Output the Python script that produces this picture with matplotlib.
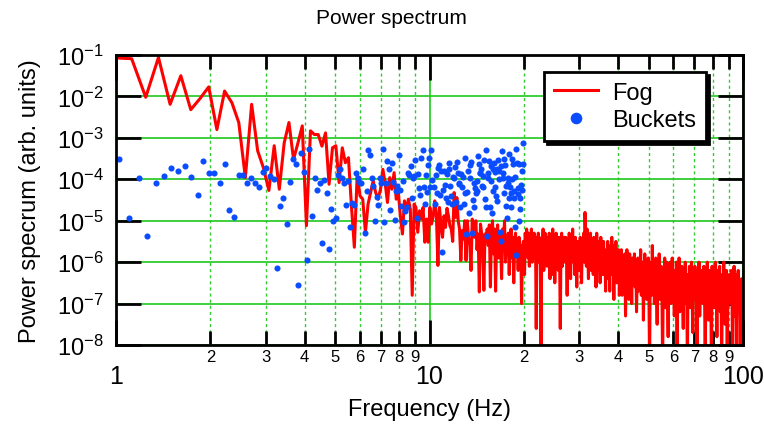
import numpy as np
import matplotlib
matplotlib.use('Agg')
import matplotlib.pyplot as plt
from matplotlib.ticker import FixedLocator, FixedFormatter, NullLocator

plt.rcParams['font.family'] = ['Liberation Sans', 'DejaVu Sans']
plt.rcParams['mathtext.default'] = 'regular'

# ---------------- data (log10 of power) ----------------
fog_df = 0.122          # frequency resolution of the Fog spectrum below 20 Hz (Hz)
fog_log_1_10 = [
    -1.07, -1.09, -2.02, -1.06, -2.19, -1.50, -2.32, -2.05, -1.77, -2.80,
    -1.87, -2.15, -2.63, -3.96, -2.19, -3.31, -3.72, -4.27,
    -3.19, -4.24, -3.12, -2.63, -3.52, -3.12, -2.71, -5.12, -2.83, -2.92,
    -2.92, -3.20, -2.88, -4.12, -3.24, -3.19, -4.08, -3.24, -3.60,
    -3.48, -4.64, -5.64, -3.88, -4.40, -4.48, -5.28, -4.60, -4.32, -4.04,
    -4.32, -4.48, -4.24, -3.76, -4.10, -4.56, -3.96, -4.24, -3.84, -4.48,
    -4.32, -4.90, -5.32, -4.52, -4.76, -4.48, -4.72, -6.80, -4.60, -4.68,
    -5.28, -4.76, -4.96, -4.68, -5.52, -4.96, -5.52,
]
fog_log_10_20 = [
    -4.68, -5.08, -4.90, -4.52, -4.84, -6.08, -4.68, -5.10, -5.40, -4.88,
    -5.16, -4.70, -4.88, -5.12, -5.20, -5.50, -4.32, -4.92, -4.44, -5.00,
    -5.20, -5.96, -5.24, -5.44, -5.00, -5.96, -5.00, -5.40, -5.60, -6.20,
    -4.96, -5.20, -5.40, -5.00, -5.70, -5.32, -6.72, -5.08, -5.30, -5.64,
    -6.68, -5.32, -5.50,
    -5.2, -5.6, -5.1, -6.6, -5.3, -5.0, -5.8, -5.2, -6.7, -5.4,
    -5.1, -5.9, -5.3, -5.6, -6.4, -5.2, -5.5, -5.0, -6.0, -5.4,
    -5.7, -5.3, -6.3, -5.5, -5.2, -5.9, -5.4, -6.5, -5.6, -5.3,
    -5.8, -5.5, -6.2, -5.4, -5.9, -5.6, -7.0, -5.7, -5.5,
]
# Fog above 20 Hz (log-spaced readings from 20 to 100 Hz)
fog_log_20_100 = [
    -5.5, -6.3, -5.3, -5.8, -5.2, -5.6, -5.9, -5.3, -6.1, -5.4, -5.7, -5.2, -6.0, -5.5, -5.8, -5.3, -5.9, -5.6, -7.6, -5.4,
    -5.8, -5.3, -6.0, -5.5, -5.9, -8.5, -5.4, -5.7, -5.2, -6.2, -5.6, -5.3, -5.9, -5.5, -6.1, -5.4, -5.8, -5.3, -6.4, -5.6,
    -5.5, -6.3, -5.2, -5.9, -5.4, -6.5, -5.7, -5.3, -6.0, -5.5, -6.2, -5.4, -5.8, -7.6, -5.6, -5.3, -6.1, -5.5, -5.9, -5.4,
    -6.0, -5.4, -5.8, -6.8, -5.5, -6.1, -5.3, -5.7, -6.4, -5.5, -5.9, -5.2, -6.0, -5.6, -6.3, -5.4, -5.8, -6.6, -5.5, -6.0,
    -5.6, -6.2, -5.4, -5.9, -6.5, -5.5, -5.8, -5.3, -6.0, -4.8, -5.4, -6.1, -5.2, -5.7, -6.4, -5.5, -5.9, -5.3, -6.2, -5.6,
    -5.8, -6.3, -5.4, -6.0, -5.6, -6.6, -5.3, -5.9, -6.2, -5.5, -5.8, -6.5, -5.4, -6.0, -5.7, -6.3, -5.5, -6.1, -5.8, -6.7,
    -5.7, -6.2, -5.5, -6.4, -5.9, -6.7, -5.6, -6.1, -5.4, -6.3, -5.8, -6.9, -5.6, -6.0, -5.5, -6.5, -5.9, -6.2, -5.7, -6.8,
    -6.0, -6.5, -5.7, -6.8, -6.1, -5.9, -6.6, -5.8, -7.3, -6.2, -5.7, -6.4, -6.0, -6.9, -5.8, -6.3, -6.1, -7.0, -5.9, -6.4,
    -6.2, -5.8, -6.6, -6.0, -7.2, -6.3, -5.9, -6.7, -6.1, -6.4, -5.7, -6.8, -6.2, -6.0, -7.4, -6.3, -5.8, -6.6, -6.1, -6.9,
    -6.3, -5.9, -6.7, -8.5, -6.2, -6.0, -6.8, -5.6, -6.5, -6.1, -7.0, -6.3, -5.9, -6.6, -7.5, -6.2, -6.4, -5.8, -6.9, -6.3,
    -6.1, -6.7, -8.5, -6.2, -6.5, -5.9, -7.1, -6.3, -6.0, -6.8, -7.8, -6.2, -6.6, -6.0, -7.0, -6.4, -5.9, -6.7, -6.3, -7.3,
    -6.2, -6.8, -6.0, -8.5, -6.4, -6.6, -5.9, -7.2, -6.3, -6.9, -6.1, -6.7, -7.6, -6.2, -6.5, -6.0, -7.0, -6.4, -8.5, -6.3,
    -6.6, -6.1, -7.1, -6.4, -6.0, -6.8, -7.7, -6.3, -6.7, -6.1, -6.9, -6.4, -8.5, -6.2, -6.6, -6.0, -7.3, -6.5, -6.8, -6.2,
    -6.4, -7.0, -6.1, -6.7, -8.5, -6.3, -6.9, -6.0, -6.6, -7.4, -6.2, -6.8, -6.4, -8.5, -6.1, -6.7, -6.3, -7.1, -6.5, -6.0,
    -6.6, -7.8, -6.2, -6.9, -6.4, -6.1, -7.2, -6.5, -8.5, -6.3, -6.8, -6.0, -6.7, -7.5, -6.4, -6.2, -8.5, -6.6, -6.9, -6.3,
    -6.5, -7.0, -6.2, -6.8, -8.5, -6.4, -6.1, -7.3, -6.6, -6.3, -8.5, -6.7, -6.2, -7.0, -6.5, -6.9, -8.5, -6.4, -6.6, -7.2,
]

bucket_f0 = 1.02
bucket_df = 0.08
bucket_log_1_6 = [
    -3.52, -4.94, -3.96, -5.38, -4.09, -3.92, -3.72, -3.80, -3.68, -3.94,
    -4.38, -3.56, -3.85, -3.85, -4.08, -3.63, -4.75,
    -4.92, -3.89, -3.89, -4.10, -3.96, -4.08, -4.18, -3.82, -3.72, -3.92,
    -4.00, -6.14, -4.64, -4.45, -5.08, -4.06, -3.52, -3.62, -6.54, -3.36,
    -3.82, -5.94, -3.26, -4.89, -3.96, -4.25, -4.09, -5.54, -4.02, -4.32,
    -5.69, -4.71, -5.01, -4.93, -3.89, -3.74, -3.98, -4.08, -4.61, -4.05,
    -5.16, -4.58, -4.61, -3.85, -3.98,
]
bucket_log_6_10 = [
    -4.06, -4.09, -3.76, -5.30, -4.28, -3.29, -3.42, -3.98, -4.16, -5.00,
    -4.42, -4.62, -3.98, -4.08, -3.26, -5.04, -4.09, -3.56, -3.76, -4.74,
    -3.60, -4.06, -4.98, -4.29, -4.17, -3.41, -4.25, -4.65, -4.03, -5.04,
    -4.77, -4.68, -3.84, -3.90, -3.69, -4.45, -3.97, -3.93, -3.53, -4.93,
    -3.88, -4.20, -4.38, -3.49, -3.29, -4.18, -4.60, -3.90, -4.30, -3.66,
]
bucket_log_10_15 = [
    -3.49, -4.18, -3.30, -4.02, -4.18, -4.60, -3.90, -4.32, -3.72, -3.65,
    -4.38, -3.80, -5.76, -4.25, -3.80, -4.13, -4.45, -3.88, -4.56, -3.74,
    -3.60, -4.17, -4.40, -4.60, -3.94, -3.96, -3.70, -4.56, -3.58, -3.86,
    -4.08, -4.12, -4.68, -3.88, -4.18, -3.95, -4.60, -3.48, -4.34, -5.32,
    -4.30, -3.80, -4.82, -3.65, -3.96, -3.58, -5.30, -4.50, -4.08, -4.68,
    -4.22, -4.34, -4.05, -4.28, -3.44, -3.62, -3.84, -3.85, -3.76, -4.16,
    -3.92, -4.18, -3.54, -4.48, -3.30, -4.66, -5.37, -3.84,
]
bucket_log_15_20 = [
    -3.97, -3.56, -4.66, -3.68, -4.05, -4.82, -4.28, -3.76, -3.60, -3.82,
    -4.18, -4.40, -3.75, -4.53, -3.54, -4.00, -3.80, -5.28, -5.48, -3.68,
    -3.32, -3.96, -3.84, -3.52, -4.34, -3.65, -4.64, -4.15, -4.93, -4.10,
    -3.97, -4.45, -3.40, -4.18, -4.68, -4.34, -4.00, -3.52, -3.64, -4.29,
    -4.45, -3.94, -5.16, -3.28, -5.82, -3.60, -4.36, -4.20, -3.62, -5.00,
    -4.45, -4.72, -4.13, -3.80, -4.26, -3.62, -3.12,
]

x_major = [1, 10, 100]
x_major_labels = ['1', '10', '100']
x_minor = [2, 3, 4, 5, 6, 7, 8, 9, 20, 30, 40, 50, 60, 70, 80, 90]
x_minor_labels = ['2', '3', '4', '5', '6', '7', '8', '9'] * 2
y_exponents = [-8, -7, -6, -5, -4, -3, -2, -1]

# ---------------- assemble series ----------------
fog_low = np.array(fog_log_1_10 + fog_log_10_20)
fog_f_low = 1.0 + fog_df * np.arange(len(fog_low))
fog_f_high = np.geomspace(20, 100, len(fog_log_20_100))
fog_f = np.concatenate([fog_f_low, fog_f_high])
fog_p = 10.0 ** np.concatenate([fog_low, np.array(fog_log_20_100)])

bucket_log = np.array(bucket_log_1_6 + bucket_log_6_10 + bucket_log_10_15 + bucket_log_15_20)
bucket_f = bucket_f0 + bucket_df * np.arange(len(bucket_log))
bucket_p = 10.0 ** bucket_log

# ---------------- figure ----------------
W, H = 764, 427
fig = plt.figure(figsize=(W / 100, H / 100), dpi=100)
ax = fig.add_axes([116 / W, (H - 346) / H, (743 - 116) / W, (346 - 56) / H])
ax.set_xscale('log')
ax.set_yscale('log')

ax.plot(fog_f, fog_p, color='#ff0000', lw=2.2, label='Fog', zorder=3)
ax.plot(bucket_f, bucket_p, 'o', color='#0a4cff', ms=4.4, mec='none', label='Buckets', zorder=4)

ax.set_xlim(1, 100)
ax.set_ylim(1e-8, 1e-1)

ax.xaxis.set_major_locator(FixedLocator(x_major))
ax.xaxis.set_major_formatter(FixedFormatter(x_major_labels))
ax.xaxis.set_minor_locator(FixedLocator(x_minor))
ax.xaxis.set_minor_formatter(FixedFormatter(x_minor_labels))
ax.yaxis.set_major_locator(FixedLocator([10.0 ** e for e in y_exponents]))
ax.yaxis.set_major_formatter(FixedFormatter([r'$10^{%d}$' % e for e in y_exponents]))
ax.yaxis.set_minor_locator(NullLocator())

ax.set_axisbelow(True)
ax.grid(which='major', axis='both', color='#1ec81e', lw=1.2, ls='-')
ax.grid(which='minor', axis='x', color='#33cc33', lw=1.0, ls=(0, (2.2, 2.2)))

for s in ax.spines.values():
    s.set_linewidth(2)
    s.set_zorder(5)

ax.tick_params(which='both', direction='in', top=True, right=True, width=2, color='black')
ax.tick_params(which='major', length=18)
ax.tick_params(which='minor', length=10)
ax.tick_params(axis='x', which='major', labelsize=18, pad=14)
ax.tick_params(axis='x', which='minor', labelsize=12, pad=3)
ax.tick_params(axis='y', which='major', labelsize=17, pad=9)

leg = ax.legend(loc='upper right', bbox_to_anchor=(0.941, 0.941), frameon=True,
                fancybox=False, edgecolor='black', framealpha=1,
                shadow={'color': 'black', 'alpha': 1}, fontsize=17,
                borderpad=0.4, handlelength=1.9, labelspacing=0.25,
                handletextpad=0.6, borderaxespad=0, markerscale=1.9)
leg.get_frame().set_linewidth(2)
leg.set_zorder(10)

fig.text(391 / W, 1 - 18 / H, 'Power spectrum', ha='center', va='center', fontsize=15)
fig.text(429.5 / W, 1 - 410 / H, 'Frequency (Hz)', ha='center', va='center', fontsize=17)
fig.text(30 / W, 1 - 201 / H, 'Power specrum (arb. units)', ha='center', va='center',
         rotation=90, fontsize=17)

fig.savefig('out.png', dpi=100)
